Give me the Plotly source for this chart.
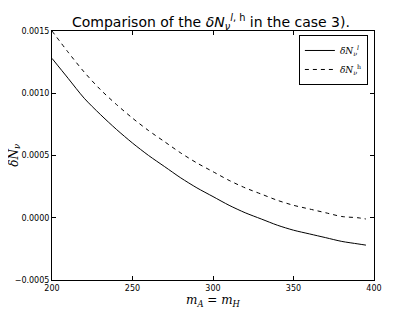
import plotly.graph_objects as go

# Data
m_values = [200, 210, 220, 230, 240, 250, 260, 270, 280, 290, 300, 310, 320,
            330, 340, 350, 360, 370, 380, 390, 395]
dN_l = [0.00128, 0.00112, 0.00096, 0.00083, 0.00071, 0.00060, 0.00050, 0.00041,
        0.00032, 0.00024, 0.00017, 0.00010, 0.00004, -0.00001, -0.00006, -0.00010,
        -0.00013, -0.00016, -0.00019, -0.00021, -0.00022]
dN_h = [0.00150, 0.00133, 0.00117, 0.00103, 0.00091, 0.00080, 0.00070, 0.00061,
        0.00052, 0.00044, 0.00037, 0.00030, 0.00024, 0.00019, 0.00014, 0.00010,
        0.00007, 0.00004, 0.00001, 0.00000, -0.00001]

x_ticks = [200, 250, 300, 350, 400]
y_ticks = [-0.0005, 0.0, 0.0005, 0.0010, 0.0015]
y_tick_labels = ["\u22120.0005", "0.0000", "0.0005", "0.0010", "0.0015"]

title_text = "Comparison of the <i>δN</i><sub><i>ν</i></sub><sup><i>l</i>, h</sup> in the case 3)."
x_title = "<i>m</i><sub><i>A</i></sub> = <i>m</i><sub><i>H</i></sub>"
y_title = "<i>δN</i><sub><i>ν</i></sub>"

serif = "DejaVu Serif"
sans = "DejaVu Sans"

W, H = 399, 300  # page body has an 8px margin

fig = go.Figure()
fig.add_trace(go.Scatter(
    x=m_values, y=dN_l, mode="lines",
    line=dict(color="black", width=1, shape="spline", smoothing=0.8),
    name="<i>δN</i><sub><i>ν</i></sub><sup><i>l</i></sup>"))
fig.add_trace(go.Scatter(
    x=m_values, y=dN_h, mode="lines",
    line=dict(color="black", width=1, dash="4px,4px", shape="spline", smoothing=0.8),
    name="<i>δN</i><sub><i>ν</i></sub><sup>h</sup>"))

axis_common = dict(
    showgrid=False, zeroline=False, showline=True, linecolor="black",
    linewidth=1, mirror="ticks", ticks="inside", ticklen=4, tickcolor="black",
    tickfont=dict(family=sans, size=8, color="black"), automargin=False,
)

fig.update_layout(
    width=W, height=H,
    margin=dict(l=44, r=33, t=23, b=28),
    paper_bgcolor="white", plot_bgcolor="white",
    showlegend=True,
    legend=dict(
        x=0.981, y=0.984, xanchor="right", yanchor="top",
        bordercolor="black", borderwidth=1, bgcolor="white",
        font=dict(family=serif, size=9, color="black"),
        itemwidth=30, tracegroupgap=0),
    xaxis=dict(range=[200, 400], tickvals=x_ticks, **axis_common),
    yaxis=dict(range=[-0.0005, 0.0015], tickvals=y_ticks, ticktext=y_tick_labels,
               **axis_common),
    annotations=[
        dict(text=title_text, xref="paper", yref="paper", x=0.495, y=1.036,
             xanchor="center", yanchor="middle", showarrow=False,
             font=dict(family=sans, size=14, color="black")),
        dict(text=x_title, xref="paper", yref="paper", x=0.5, y=-0.083,
             xanchor="center", yanchor="middle", showarrow=False,
             font=dict(family=serif, size=12, color="black")),
        dict(text=y_title, xref="paper", yref="paper", x=-0.116, y=0.502,
             xanchor="center", yanchor="middle", showarrow=False, textangle=-90,
             font=dict(family=serif, size=12, color="black")),
    ],
)

fig.write_html("out.html")
